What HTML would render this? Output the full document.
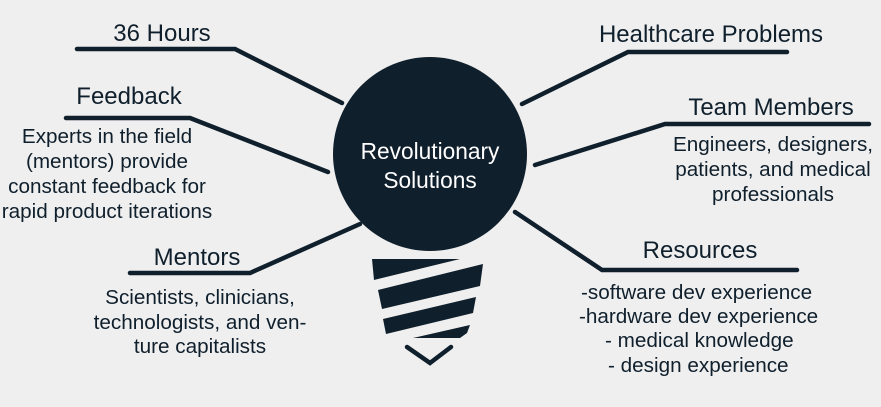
<!DOCTYPE html>
<html><head><style>
body{margin:0;background:#efefef;}
svg{display:block;font-family:"Liberation Sans",Arial,Helvetica,sans-serif;}
text{font-family:inherit;fill:#0f1f2c;}
.t{font-size:24px;}
.s{font-size:20.7px;}
</style></head><body>
<svg width="881" height="407" viewBox="0 0 881 407">
<g stroke="#0f1f2c" stroke-width="4.5" fill="none" stroke-linecap="round">
<polyline points="77,49 235,49 342,103"/>
<polyline points="66,118 190,118 328,172"/>
<polyline points="130,273 250,273 360,224"/>
<polyline points="522,104 628,52 787,52"/>
<polyline points="535,165 665,124 869,124"/>
<polyline points="515,212 602,270 797,270"/>
<polyline points="407,347 430,363 451,347"/>
</g>
<circle cx="430" cy="154" r="97" fill="#0f1f2c"/>
<g fill="#0f1f2c">
<polygon points="372,259 460,259 374,280"/>
<polygon points="378,290 483,264 480,286 382,309"/>
<polygon points="383,319 476,297 473,313 386,334"/>
<polygon points="413,338 470,325 467,333 460,338"/>
</g>
<text x="430" y="159" text-anchor="middle" style="fill:#fff;font-size:22.7px">Revolutionary</text>
<text x="430" y="188" text-anchor="middle" style="fill:#fff;font-size:22.7px">Solutions</text>
<text x="162" y="41" text-anchor="middle" class="t">36 Hours</text>
<text x="129" y="104" text-anchor="middle" class="t">Feedback</text>
<g class="s" text-anchor="middle">
<text x="107" y="143">Experts in the field</text>
<text x="107" y="168">(mentors) provide</text>
<text x="107" y="193">constant feedback for</text>
<text x="107" y="218">rapid product iterations</text>
</g>
<text x="197" y="265" text-anchor="middle" class="t">Mentors</text>
<g class="s" text-anchor="middle">
<text x="200" y="304">Scientists, clinicians,</text>
<text x="200" y="329">technologists, and ven-</text>
<text x="200" y="353">ture capitalists</text>
</g>
<text x="711" y="42" text-anchor="middle" class="t">Healthcare Problems</text>
<text x="771" y="115" text-anchor="middle" class="t">Team Members</text>
<g class="s" text-anchor="middle">
<text x="773" y="151">Engineers, designers,</text>
<text x="773" y="176">patients, and medical</text>
<text x="773" y="201">professionals</text>
</g>
<text x="700" y="258" text-anchor="middle" class="t">Resources</text>
<g class="s">
<text x="581" y="299">-software dev experience</text>
<text x="579" y="323">-hardware dev experience</text>
<text x="605" y="347">- medical knowledge</text>
<text x="608" y="372">- design experience</text>
</g>
</svg>
</body></html>
